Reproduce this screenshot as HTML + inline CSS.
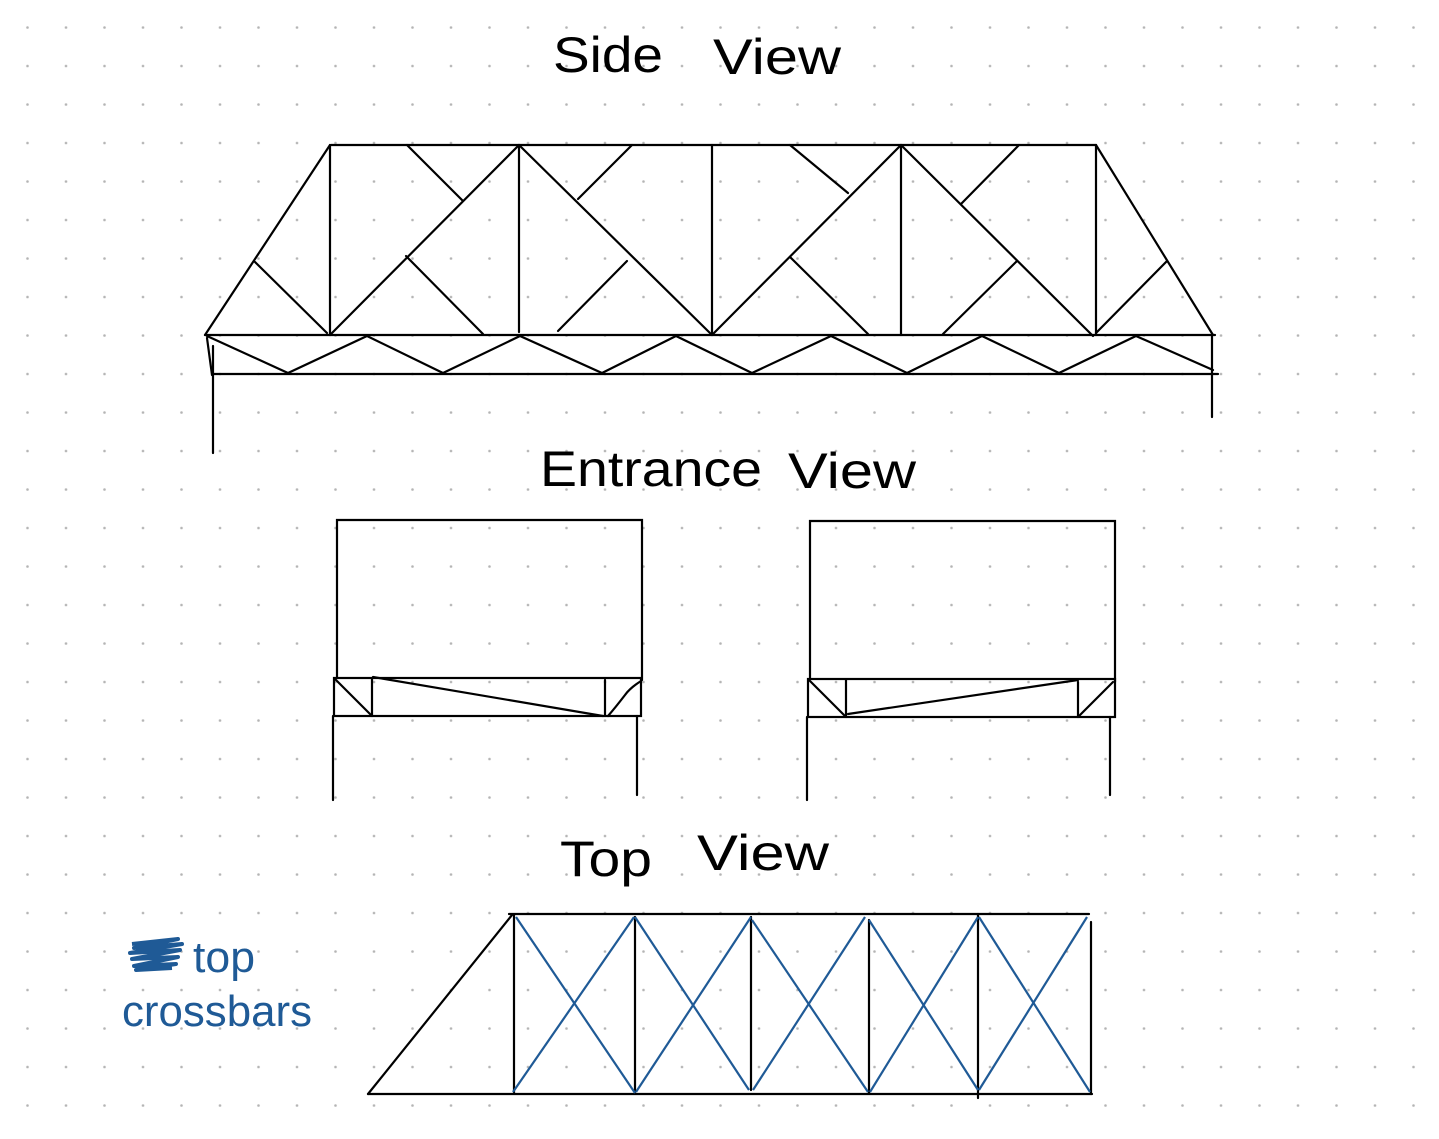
<!DOCTYPE html>
<html><head><meta charset="utf-8"><style>
html,body{margin:0;padding:0;background:#fff;}
svg{display:block;}
</style></head><body>
<svg width="1439" height="1139" viewBox="0 0 1439 1139" xmlns="http://www.w3.org/2000/svg">
<defs>
<pattern id="dots" x="8.25" y="8.25" width="38.5" height="38.5" patternUnits="userSpaceOnUse">
<circle cx="19.25" cy="19.25" r="1.3" fill="#b4b4b4"/>
</pattern>
</defs>
<rect width="1439" height="1139" fill="#fff"/>
<rect width="1439" height="1139" fill="url(#dots)"/>

<g font-family="Liberation Sans, sans-serif" fill="#000">
<text x="553" y="72" font-size="50" textLength="110" lengthAdjust="spacingAndGlyphs">Side</text>
<text x="713" y="74" font-size="50" textLength="128" lengthAdjust="spacingAndGlyphs">View</text>
<text x="540" y="486" font-size="50" textLength="222" lengthAdjust="spacingAndGlyphs">Entrance</text>
<text x="788" y="488" font-size="50" textLength="128" lengthAdjust="spacingAndGlyphs">View</text>
<text x="560" y="876" font-size="50" textLength="92" lengthAdjust="spacingAndGlyphs">Top</text>
<text x="697" y="870" font-size="50" textLength="132" lengthAdjust="spacingAndGlyphs">View</text>
</g>
<g font-family="Liberation Sans, sans-serif" fill="#1f5a96">
<text x="193" y="972" font-size="44" textLength="62" lengthAdjust="spacingAndGlyphs">top</text>
<text x="122" y="1026" font-size="44" textLength="190" lengthAdjust="spacingAndGlyphs">crossbars</text>
</g>
<path d="M132 944 L178 939 L134 948 L182 944 L130 953 L180 950 L132 959 L178 957 L134 966 L176 964 L136 970 L172 968" stroke="#1f5a96" stroke-width="4" fill="none" stroke-linejoin="round"/>

<g stroke="#000" stroke-width="2.2" fill="none" stroke-linecap="round">
<!-- side view -->
<line x1="331" y1="145" x2="1096" y2="145"/>
<line x1="205" y1="335" x2="1215" y2="335"/>
<line x1="213" y1="374" x2="1218" y2="374"/>
<line x1="205" y1="335" x2="330" y2="145"/>
<line x1="1096" y1="145" x2="1213" y2="335"/>
<line x1="330" y1="145" x2="330" y2="335"/>
<line x1="519" y1="145" x2="519" y2="332"/>
<line x1="712" y1="145" x2="712" y2="335"/>
<line x1="901" y1="145" x2="901" y2="335"/>
<line x1="1096" y1="145" x2="1096" y2="335"/>
<line x1="330" y1="335" x2="519" y2="145"/>
<line x1="519" y1="145" x2="712" y2="335"/>
<line x1="712" y1="335" x2="901" y2="145"/>
<line x1="901" y1="145" x2="1093" y2="336"/>
<line x1="407" y1="145" x2="463" y2="201"/>
<line x1="255" y1="262" x2="327" y2="333"/>
<line x1="406" y1="256" x2="483" y2="334"/>
<line x1="632" y1="145" x2="578" y2="199"/>
<line x1="627" y1="261" x2="558" y2="331"/>
<line x1="790" y1="145" x2="848" y2="193"/>
<line x1="790" y1="257" x2="868" y2="334"/>
<line x1="1019" y1="145" x2="961" y2="204"/>
<line x1="1017" y1="261" x2="943" y2="334"/>
<line x1="1167" y1="261" x2="1096" y2="333"/>
<polyline points="207,336 288,373 367,336 443,373 520,336 602,373 676,336 752,373 831,336 907,373 982,336 1059,373 1136,336 1213,370"/>
<line x1="207" y1="338" x2="212" y2="375"/>
<line x1="213" y1="346" x2="213" y2="453"/>
<line x1="1212" y1="335" x2="1212" y2="417"/>

<!-- entrance left -->
<polyline points="337,678 337,520 642,520 642,680"/>
<rect x="334" y="678" width="307" height="38"/>
<line x1="372" y1="678" x2="372" y2="716"/>
<line x1="605" y1="680" x2="605" y2="716"/>
<line x1="373" y1="677" x2="603" y2="716"/>
<line x1="335" y1="679" x2="371" y2="715"/>
<path d="M641 681 Q630 688 625 695 Q615 708 608 716"/>
<line x1="333" y1="716" x2="333" y2="800"/>
<line x1="637" y1="716" x2="637" y2="795"/>

<!-- entrance right -->
<polyline points="810,679 810,521 1115,521 1115,682"/>
<rect x="808" y="679" width="307" height="38"/>
<line x1="846" y1="680" x2="846" y2="717"/>
<line x1="1078" y1="682" x2="1078" y2="717"/>
<line x1="848" y1="714" x2="1078" y2="680"/>
<line x1="809" y1="680" x2="845" y2="716"/>
<line x1="1113" y1="682" x2="1079" y2="716"/>
<line x1="807" y1="717" x2="807" y2="800"/>
<line x1="1110" y1="717" x2="1110" y2="795"/>

<!-- top view -->
<line x1="509" y1="914" x2="1089" y2="914"/>
<line x1="368" y1="1094" x2="1092" y2="1094"/>
<line x1="368" y1="1094" x2="512" y2="915"/>
<line x1="514" y1="915" x2="514" y2="1093"/>
<line x1="635" y1="917" x2="635" y2="1092"/>
<line x1="751" y1="917" x2="751" y2="1090"/>
<line x1="869" y1="920" x2="869" y2="1093"/>
<line x1="978" y1="914" x2="978" y2="1098"/>
<line x1="1091" y1="922" x2="1091" y2="1094"/>
</g>
<g stroke="#1f5a96" stroke-width="2.2" fill="none">
<line x1="516" y1="917" x2="635" y2="1093"/>
<line x1="513" y1="1092" x2="634" y2="917"/>
<line x1="635" y1="917" x2="749" y2="1090"/>
<line x1="636" y1="1092" x2="751" y2="917"/>
<line x1="752" y1="920" x2="868" y2="1092"/>
<line x1="753" y1="1090" x2="865" y2="917"/>
<line x1="869" y1="920" x2="978" y2="1090"/>
<line x1="870" y1="1092" x2="978" y2="917"/>
<line x1="979" y1="917" x2="1090" y2="1092"/>
<line x1="979" y1="1090" x2="1087" y2="917"/>
</g>
</svg>
</body></html>
